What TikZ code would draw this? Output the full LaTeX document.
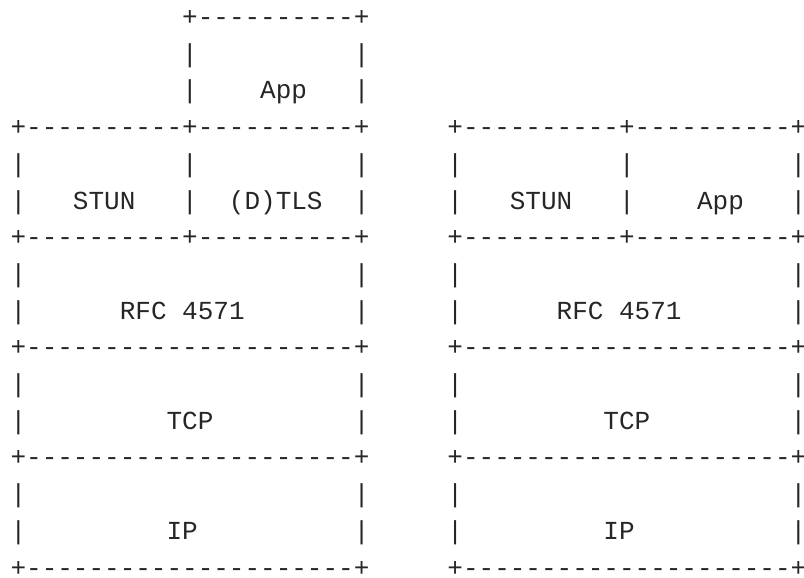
\documentclass[tikz,border=0pt]{standalone}
\usepackage{fontspec}
\setmonofont{Liberation Mono}
\usepackage{tikz}

\begin{document}
\begin{tikzpicture}[
  x=0.5pt, y=-0.5pt,
  every node/.style={anchor=base west, inner sep=0pt, text=black!85, font=\fontsize{13pt}{16pt}\selectfont\ttfamily},
]
  \useasboundingbox (0,0) rectangle (804,578);

  % App on top of (D)TLS, left stack only
  \node (apptop) at (181.8,25.5) {+----------+};
  \node (appgap) at (181.8,62.2) {|~~~~~~~~~~|};
  \node (app) at (181.8,98.9) {|~~~~App~~~|};

  % both stacks from here down
  \node (splittop) at (10.2,135.6) {+----------+----------+~~~~~+----------+----------+};
  \node (splitgap) at (10.2,172.3) {|~~~~~~~~~~|~~~~~~~~~~|~~~~~|~~~~~~~~~~|~~~~~~~~~~|};
  \node (split) at (10.2,209.0) {|~~~STUN~~~|~~(D)TLS~~|~~~~~|~~~STUN~~~|~~~~App~~~|};
  \node (rfctop) at (10.2,245.7) {+----------+----------+~~~~~+----------+----------+};
  \node (rfcgap) at (10.2,282.4) {|~~~~~~~~~~~~~~~~~~~~~|~~~~~|~~~~~~~~~~~~~~~~~~~~~|};
  \node (rfc) at (10.2,319.1) {|~~~~~~RFC~4571~~~~~~~|~~~~~|~~~~~~RFC~4571~~~~~~~|};
  \node (tcptop) at (10.2,355.8) {+---------------------+~~~~~+---------------------+};
  \node (tcpgap) at (10.2,392.5) {|~~~~~~~~~~~~~~~~~~~~~|~~~~~|~~~~~~~~~~~~~~~~~~~~~|};
  \node (tcp) at (10.2,429.2) {|~~~~~~~~~TCP~~~~~~~~~|~~~~~|~~~~~~~~~TCP~~~~~~~~~|};
  \node (iptop) at (10.2,465.9) {+---------------------+~~~~~+---------------------+};
  \node (ipgap) at (10.2,502.6) {|~~~~~~~~~~~~~~~~~~~~~|~~~~~|~~~~~~~~~~~~~~~~~~~~~|};
  \node (ip) at (10.2,539.3) {|~~~~~~~~~IP~~~~~~~~~~|~~~~~|~~~~~~~~~IP~~~~~~~~~~|};
  \node (ipbottom) at (10.2,576.0) {+---------------------+~~~~~+---------------------+};
\end{tikzpicture}
\end{document}
